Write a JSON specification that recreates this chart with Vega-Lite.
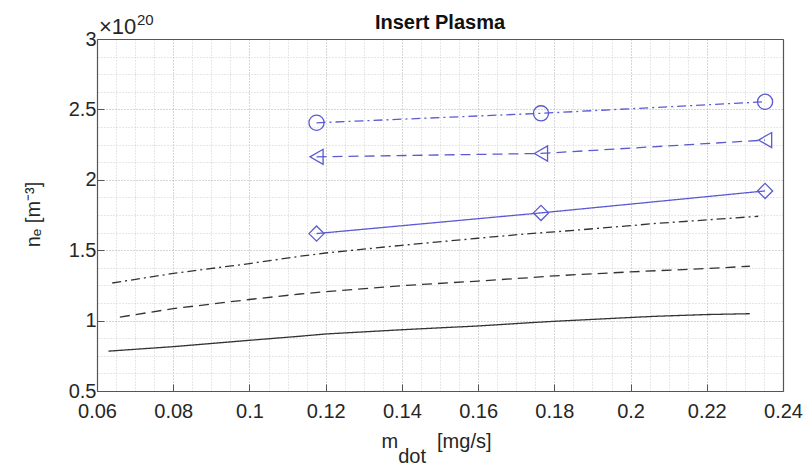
{
  "$schema": "https://vega.github.io/schema/vega-lite/v6.json",
  "width": 686,
  "height": 352,
  "autosize": "none",
  "padding": {"left": 97, "top": 39, "right": 24, "bottom": 74},
  "background": "white",
  "title": {"text": "Insert Plasma", "fontSize": 20, "font": "Liberation Sans", "fontWeight": "bold", "color": "#111111", "baseline": "alphabetic", "offset": 0, "dy": 36},
  "config": {
    "font": "Liberation Sans",
    "view": {"stroke": null},
    "axis": {"labelFont": "Liberation Sans", "titleFont": "Liberation Sans", "labelFontSize": 20, "titleFontSize": 20, "titleFontWeight": "normal", "labelColor": "#262626", "titleColor": "#262626", "domainColor": "#555555", "tickColor": "#555555", "labelFlush": false}
  },
  "datasets": {
    "black": [
      {"s": "dashdot", "x": 0.064, "y": 1.267},
      {"s": "dashdot", "x": 0.08, "y": 1.335},
      {"s": "dashdot", "x": 0.1, "y": 1.405},
      {"s": "dashdot", "x": 0.1133, "y": 1.457},
      {"s": "dashdot", "x": 0.12, "y": 1.48},
      {"s": "dashdot", "x": 0.14, "y": 1.535},
      {"s": "dashdot", "x": 0.16, "y": 1.585},
      {"s": "dashdot", "x": 0.1736, "y": 1.618},
      {"s": "dashdot", "x": 0.18, "y": 1.63},
      {"s": "dashdot", "x": 0.2, "y": 1.674},
      {"s": "dashdot", "x": 0.206, "y": 1.689},
      {"s": "dashdot", "x": 0.22, "y": 1.715},
      {"s": "dashdot", "x": 0.2335, "y": 1.741},
      {"s": "dashed", "x": 0.066, "y": 1.025},
      {"s": "dashed", "x": 0.08, "y": 1.085},
      {"s": "dashed", "x": 0.1, "y": 1.15},
      {"s": "dashed", "x": 0.1133, "y": 1.189},
      {"s": "dashed", "x": 0.12, "y": 1.205},
      {"s": "dashed", "x": 0.14, "y": 1.248},
      {"s": "dashed", "x": 0.16, "y": 1.281},
      {"s": "dashed", "x": 0.1736, "y": 1.305},
      {"s": "dashed", "x": 0.18, "y": 1.318},
      {"s": "dashed", "x": 0.2, "y": 1.346},
      {"s": "dashed", "x": 0.22, "y": 1.37},
      {"s": "dashed", "x": 0.2313, "y": 1.386},
      {"s": "solid", "x": 0.063, "y": 0.783},
      {"s": "solid", "x": 0.08, "y": 0.815},
      {"s": "solid", "x": 0.1, "y": 0.86},
      {"s": "solid", "x": 0.1133, "y": 0.889},
      {"s": "solid", "x": 0.12, "y": 0.905},
      {"s": "solid", "x": 0.14, "y": 0.935},
      {"s": "solid", "x": 0.16, "y": 0.962},
      {"s": "solid", "x": 0.1736, "y": 0.985},
      {"s": "solid", "x": 0.18, "y": 0.995},
      {"s": "solid", "x": 0.2, "y": 1.022},
      {"s": "solid", "x": 0.206, "y": 1.03},
      {"s": "solid", "x": 0.22, "y": 1.043},
      {"s": "solid", "x": 0.2313, "y": 1.049}
    ],
    "blue": [
      {"s": "dashdot", "x": 0.1176, "y": 2.405},
      {"s": "dashdot", "x": 0.1765, "y": 2.472},
      {"s": "dashdot", "x": 0.2353, "y": 2.554},
      {"s": "dashed", "x": 0.1176, "y": 2.163},
      {"s": "dashed", "x": 0.1765, "y": 2.187},
      {"s": "dashed", "x": 0.2353, "y": 2.282},
      {"s": "solid", "x": 0.1176, "y": 1.618},
      {"s": "solid", "x": 0.1765, "y": 1.765},
      {"s": "solid", "x": 0.2353, "y": 1.921}
    ]
  },
  "layer": [
    {
      "data": {"name": "black"},
      "mark": {"type": "line", "color": "#333333", "strokeWidth": 1.3},
      "encoding": {
        "x": {
          "field": "x", "type": "quantitative",
          "scale": {"domain": [0.06, 0.24], "nice": false, "zero": false},
          "axis": {
            "orient": "bottom",
            "values": [0.06, 0.08, 0.1, 0.12, 0.14, 0.16, 0.18, 0.2, 0.22, 0.24],
            "format": "~g",
            "grid": true, "gridColor": "#adadad", "gridDash": [1, 2], "gridWidth": 1,
            "ticks": true, "tickSize": -7, "tickWidth": 1,
            "labelPadding": 17,
            "domain": true, "domainWidth": 1.2,
            "title": ["m\u00a0\u00a0\u00a0\u00a0\u00a0\u00a0\u00a0[mg/s]", "\u200b\u00a0\u00a0\u00a0dot"],
            "titleAlign": "left", "titleX": 284, "titleY": 56, "titleBaseline": "alphabetic", "titleLineHeight": 15
          }
        },
        "y": {
          "field": "y", "type": "quantitative",
          "scale": {"domain": [0.5, 3], "nice": false, "zero": false},
          "axis": {
            "orient": "left",
            "values": [0.5, 1, 1.5, 2, 2.5, 3],
            "format": "~g",
            "grid": true, "gridColor": "#adadad", "gridDash": [1, 2], "gridWidth": 1,
            "ticks": true, "tickSize": -7, "tickWidth": 1,
            "labelPadding": 8,
            "domain": true, "domainWidth": 1.2,
            "title": "nₑ [m⁻³]",
            "titleAngle": -90, "titleAlign": "center", "titleBaseline": "middle", "titleX": -64, "titleY": 175
          }
        },
        "strokeDash": {"field": "s", "type": "nominal", "scale": {"domain": ["solid", "dashed", "dashdot"], "range": [[1, 0], [10, 6], [9, 4, 2, 4]]}, "legend": null}
      }
    },
    {
      "data": {"name": "blue"},
      "mark": {"type": "line", "color": "#5a5ad2", "strokeWidth": 1.3},
      "encoding": {
        "x": {
          "field": "x", "type": "quantitative",
          "axis": {
            "orient": "top",
            "values": [0.065, 0.07, 0.075, 0.085, 0.09, 0.095, 0.105, 0.11, 0.115, 0.125, 0.13, 0.135, 0.145, 0.15, 0.155, 0.165, 0.17, 0.175, 0.185, 0.19, 0.195, 0.205, 0.21, 0.215, 0.225, 0.23, 0.235],
            "grid": true, "gridColor": "#cfcfcf", "gridDash": [1, 2], "gridWidth": 1,
            "ticks": false, "labels": false, "domain": true, "domainWidth": 1.2, "title": null
          }
        },
        "y": {
          "field": "y", "type": "quantitative",
          "axis": {
            "orient": "right",
            "values": [0.625, 0.75, 0.875, 1.125, 1.25, 1.375, 1.625, 1.75, 1.875, 2.125, 2.25, 2.375, 2.625, 2.75, 2.875],
            "grid": true, "gridColor": "#cfcfcf", "gridDash": [1, 2], "gridWidth": 1,
            "ticks": false, "labels": false, "domain": true, "domainWidth": 1.2, "title": null
          }
        },
        "strokeDash": {"field": "s", "type": "nominal", "legend": null}
      }
    },
    {
      "data": {"name": "blue"},
      "mark": {"type": "point", "filled": false, "color": "#5a5ad2", "strokeWidth": 1.3, "size": 230, "opacity": 1},
      "encoding": {
        "x": {"field": "x", "type": "quantitative", "axis": null},
        "y": {"field": "y", "type": "quantitative", "axis": null},
        "shape": {"field": "s", "type": "nominal", "scale": {"domain": ["solid", "dashed", "dashdot"], "range": ["diamond", "triangle-left", "circle"]}, "legend": null}
      }
    },
    {
      "data": {"values": [{"t": "×10"}]},
      "mark": {"type": "text", "align": "left", "baseline": "alphabetic", "fontSize": 22, "dx": 2, "dy": -5, "color": "#262626"},
      "encoding": {
        "text": {"field": "t", "type": "nominal"},
        "x": {"datum": 0.06, "type": "quantitative", "axis": null},
        "y": {"datum": 3, "type": "quantitative", "axis": null}
      }
    },
    {
      "data": {"values": [{"t": "20"}]},
      "mark": {"type": "text", "align": "left", "baseline": "alphabetic", "fontSize": 15, "dx": 40, "dy": -14, "color": "#262626"},
      "encoding": {
        "text": {"field": "t", "type": "nominal"},
        "x": {"datum": 0.06, "type": "quantitative", "axis": null},
        "y": {"datum": 3, "type": "quantitative", "axis": null}
      }
    }
  ]
}
